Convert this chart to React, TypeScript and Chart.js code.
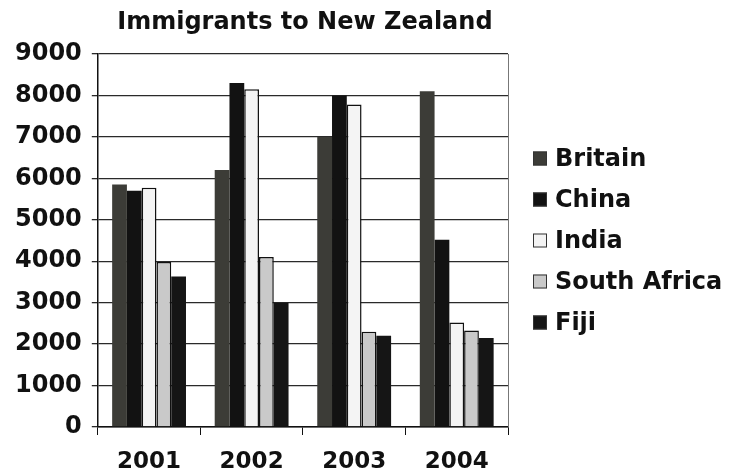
import React, { useEffect, useRef } from "react";
import { Chart, registerables } from "chart.js";

Chart.register(...registerables);

const years = ["2001", "2002", "2003", "2004"];
const britain = [5850, 6200, 7000, 8100];
const china = [5700, 8300, 8000, 4520];
const india = [5770, 8150, 7780, 2520];
const southAfrica = [3980, 4100, 2300, 2330];
const fiji = [3630, 3000, 2200, 2150];
const seriesNames = ["Britain", "China", "India", "South Africa", "Fiji"];
const seriesColors = ["#3c3c37", "#121212", "#f4f4f4", "#c9c9c9", "#151515"];
const chartTitle = "Immigrants to New Zealand";

const FONT = "'DejaVu Sans', sans-serif";

const framePlugin = {
  id: "frame",
  afterDatasetsDraw(chart: any) {
    const { ctx, chartArea } = chart;
    ctx.save();
    ctx.strokeStyle = "#777";
    ctx.lineWidth = 1;
    ctx.beginPath();
    ctx.moveTo(chartArea.right + 0.5, chartArea.top);
    ctx.lineTo(chartArea.right + 0.5, chartArea.bottom);
    ctx.stroke();
    ctx.restore();
  },
};

const titlePlugin = {
  id: "centerTitle",
  afterDraw(chart: any) {
    const { ctx, chartArea } = chart;
    ctx.save();
    ctx.font = `bold 24px ${FONT}`;
    ctx.textAlign = "center";
    ctx.textBaseline = "middle";
    ctx.fillStyle = "#111";
    ctx.fillText(chartTitle, (chartArea.left + chartArea.right) / 2 + 2, chartArea.top - 31);
    ctx.restore();
  },
};

const legendPlugin = {
  id: "sideLegend",
  afterDraw(chart: any) {
    const { ctx, chartArea } = chart;
    const datasets = chart.data.datasets;
    const rowH = 41;
    const cy = (chartArea.top + chartArea.bottom) / 2;
    const boxX = chartArea.right + 25;
    ctx.save();
    ctx.font = `bold 24px ${FONT}`;
    ctx.textBaseline = "middle";
    datasets.forEach((ds: any, i: number) => {
      const y = cy + (i - (datasets.length - 1) / 2) * rowH;
      ctx.fillStyle = ds.backgroundColor;
      ctx.fillRect(boxX, y - 7, 14, 14);
      ctx.strokeStyle = "#333";
      ctx.lineWidth = 1;
      ctx.strokeRect(boxX + 0.5, y - 6.5, 13, 13);
      ctx.fillStyle = "#111";
      ctx.fillText(ds.label, boxX + 22, y + 1);
    });
    ctx.restore();
  },
};

export default function App() {
  const ref = useRef<HTMLCanvasElement>(null);
  useEffect(() => {
    if (!ref.current) return;
    const data = [britain, china, india, southAfrica, fiji];
    const chart = new Chart(ref.current, {
      type: "bar",
      data: {
        labels: years,
        datasets: seriesNames.map((name, i) => ({
          label: name,
          data: data[i],
          backgroundColor: seriesColors[i],
          borderColor: "#111",
          borderWidth: i === 2 || i === 3 ? 1.5 : 0,
          barPercentage: 1,
          categoryPercentage: 0.72,
        })),
      },
      options: {
        animation: false,
        responsive: true,
        maintainAspectRatio: false,
        layout: { padding: { top: 54, right: 221, left: 5, bottom: -17 } },
        plugins: {
          title: { display: false },
          legend: { display: false },
          tooltip: { enabled: false },
        },
        scales: {
          x: {
            grid: {
              display: true,
              drawOnChartArea: false,
              drawTicks: true,
              tickLength: 8,
              color: "#111",
              offset: true,
            },
            border: { display: true, color: "#111", width: 1.5 },
            ticks: {
              color: "#111",
              font: { family: FONT, size: 23, weight: "bold", lineHeight: 1 },
              padding: 16,
              maxRotation: 0,
            },
          },
          y: {
            min: 0,
            max: 9000,
            ticks: {
              stepSize: 1000,
              color: "#111",
              font: { family: FONT, size: 24, weight: "bold" },
              padding: 10,
              callback: (v: any) => String(v),
            },
            grid: { color: "#2a2a2a", lineWidth: 1.3, tickLength: 6 },
            border: { display: true, color: "#111", width: 1.5 },
          },
        },
      },
      plugins: [framePlugin, titlePlugin, legendPlugin],
    });
    return () => chart.destroy();
  }, []);
  return (
    <div style={{ position: "fixed", left: 0, top: 0, width: 729, height: 473, background: "#fff" }}>
      <canvas ref={ref} />
    </div>
  );
}
